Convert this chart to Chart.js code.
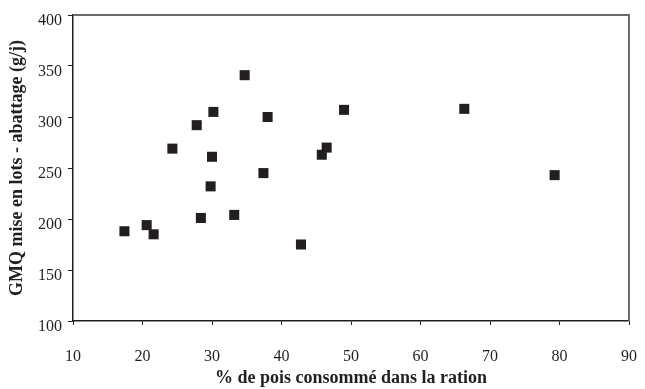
<!DOCTYPE html>
<html lang="fr">
<head>
  <meta charset="UTF-8">
  <title>GMQ vs % de pois</title>
  <script src="https://cdn.jsdelivr.net/npm/chart.js"></script>
  <style>
    html, body { margin: 0; padding: 0; background: #fff; }
    #wrap { width: 645px; height: 389px; }
  </style>
</head>
<body>
  <div id="wrap"><canvas id="gmqChart" width="645" height="389"></canvas></div>

  <script>
    // data
    const peaShare = [34.7, 30.2, 27.8, 38.0, 49.0, 24.3, 30.0, 46.5, 45.8, 37.4, 29.8, 33.2, 28.4, 20.6, 21.6, 17.4, 42.8, 66.3, 79.3];
    const gmq      = [341, 305, 292, 300, 307, 269, 261, 270, 263, 245, 232, 204, 201, 194, 185, 188, 175, 308, 243];

    const xTicks = [10, 20, 30, 40, 50, 60, 70, 80, 90];
    const yTicks = [100, 150, 200, 250, 300, 350, 400];

    const points = peaShare.map((x, i) => ({ x: x, y: gmq[i] }));

    const ink = '#231f20';
    const serif = "'Liberation Serif', 'DejaVu Serif', serif";

    // top and right frame lines (grey)
    const frame = {
      id: 'frame',
      afterDraw(chart) {
        const { ctx, chartArea: a } = chart;
        ctx.save();
        ctx.strokeStyle = '#6b6b6b';
        ctx.lineWidth = 2;
        ctx.beginPath();
        ctx.moveTo(a.left, a.top);
        ctx.lineTo(a.right, a.top);
        ctx.lineTo(a.right, a.bottom);
        ctx.stroke();
        ctx.restore();
      }
    };

    new Chart(document.getElementById('gmqChart'), {
      type: 'scatter',
      data: {
        datasets: [{
          data: points,
          pointStyle: 'rect',
          pointRadius: 7.1,
          pointHoverRadius: 7.1,
          pointBackgroundColor: ink,
          pointBorderWidth: 0
        }]
      },
      options: {
        responsive: false,
        animation: false,
        layout: { padding: { top: 15, right: 16, bottom: 0, left: 0 } },
        plugins: { legend: { display: false }, tooltip: { enabled: false } },
        scales: {
          x: {
            type: 'linear',
            min: 10, max: 90,
            afterFit: s => { s.height = 68; s.paddingLeft = 0; s.paddingRight = 0; },
            afterBuildTicks: s => { s.ticks = xTicks.map(v => ({ value: v })); },
            grid: { drawOnChartArea: false, tickLength: 4, color: ink },
            border: { color: ink, width: 1.5 },
            ticks: { color: ink, padding: 22, maxRotation: 0, font: { family: serif, size: 16 } },
            title: {
              display: true,
              text: '% de pois consommé dans la ration',
              color: ink,
              padding: { top: 0, bottom: 0 },
              font: { family: serif, size: 18, weight: 'bold' }
            }
          },
          y: {
            type: 'linear',
            min: 100, max: 400,
            afterFit: s => { s.width = 73; s.paddingTop = 0; s.paddingBottom = 0; },
            afterBuildTicks: s => { s.ticks = yTicks.map(v => ({ value: v })); },
            grid: { drawOnChartArea: false, tickLength: 5, color: ink },
            border: { color: ink, width: 1.5 },
            ticks: { color: ink, padding: 6, labelOffset: 6, font: { family: serif, size: 16 } },
            title: {
              display: true,
              text: 'GMQ mise en lots - abattage (g/j)',
              color: ink,
              padding: { top: 7, bottom: 0 },
              font: { family: serif, size: 18, weight: 'bold' }
            }
          }
        }
      },
      plugins: [frame]
    });
  </script>
</body>
</html>
